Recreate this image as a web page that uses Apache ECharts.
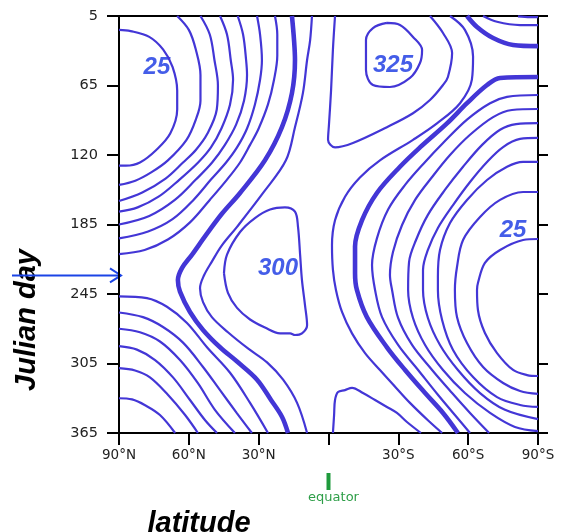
<!DOCTYPE html>
<html>
<head>
<meta charset="utf-8">
<script src="https://cdn.jsdelivr.net/npm/echarts@6/dist/echarts.min.js"></script>
<style>
html,body{margin:0;padding:0;background:#fff;}
#chart{width:561px;height:532px;}
</style>
</head>
<body>
<div id="chart"></div>
<script>
// ---- axis tick labels ----
const dayTicks = [5, 65, 120, 185, 245, 305, 365];
const latTickLabels = ['90°N', '60°N', '30°N', '', '30°S', '60°S', '90°S'];

// ---- contour lines: [latitude (deg, + = N), Julian day] ----
const npLoop25 = [[90,17],[85,18],[77,23],[71,34],[67,49],[65,69],[65,84],[68,103],[74,116],[81,127],[87,130],[90,130]];
const nL1 = [[65,5],[60,17],[57,34],[55,56],[55,77],[57,92],[61,108],[69,125],[76,136],[83,144],[90,148]];
const nL2 = [[55,5],[51,21],[49,43],[47.5,65],[48,84],[52,103],[57,116],[62.5,127],[70,142],[80,155],[90,163]];
const nL3 = [[46.6,5],[43.6,21],[42,43],[41,60],[42.3,80],[46,99],[50.5,114],[56,127],[64,143],[73,159],[82,169],[90,173]];
const nL4 = [[39,5],[36.7,21],[35.4,43],[35,56],[36.3,77],[39.7,96],[44.5,112],[50,127],[57,143],[66,162],[77,177],[90,185]];
const nL5 = [[30.7,5],[29.4,21],[28.6,43],[29.4,60],[31.6,80],[35,99],[39.3,114],[44,127],[50.5,143],[58,162],[67,180],[77.5,191],[90,197]];
const nL6 = [[23,5],[22,21],[22,39],[23.4,60],[26,80],[30,99],[33.7,112],[38,127],[43.6,143],[51,162],[59.5,183],[69,198],[79,207],[90,210.5]];
const thickLeft = [[15.7,5],[14.8,26],[14.4,43],[15.7,71],[20,98],[27.3,125],[38,155.5],[45.8,175],[52.6,194],[58.6,211],[62.9,222.5],[64.7,233],[63.8,243],[59.5,260.5],[53.9,276],[46.6,291],[38.9,304],[30.7,319],[24.7,336.5],[20,351],[17.4,365]];
const mid1 = [[7.1,5],[7.9,26],[9.2,43],[11,71],[14.4,98],[18.3,125],[28.1,155.5],[39.3,187],[45.8,203],[50.1,217],[53.5,229],[55.2,240],[53.9,252],[50.1,265],[43.2,278],[34.6,292],[26.4,304],[19.5,319],[13.5,339],[9.2,365]];
const loop300 = [[44.9,227],[43.6,211],[38,191.5],[31.6,179],[25.1,171],[18.7,169],[14.4,173],[13.1,187],[12.2,211],[11.4,233],[10.1,254.5],[9.2,272],[11.4,279],[14.4,280.4],[16.5,279],[20.8,279],[27.3,274],[33.7,267],[39.3,257],[43.2,244],[44.9,227]];
const nB1 = [[90,335],[84.4,336],[78.8,341],[72.4,349.5],[65.9,365]];
const nB2 = [[90,309],[83.1,311],[76.7,317],[69,332],[61.6,349.5],[56.1,365]];
const nB3 = [[90,290],[82.3,293],[74.5,302],[66.8,317],[59.5,336.5],[53,354],[47.9,365]];
const nB4 = [[90,275],[81,278],[72.4,286],[63.8,302],[56.1,322],[48.8,345],[40.2,365]];
const nB5 = [[90,261],[79.7,265],[71.1,273.5],[62.5,287],[53.9,308],[46.6,328],[39.3,348],[32.9,365]];
const nB6 = [[90,247],[78,248.5],[69.4,256],[60.8,270],[52.2,291],[42.3,313],[33.7,339],[26,365]];
const uCurve = [[-2.8,5],[-1.9,34],[-1.1,69],[-0.2,96],[0.2,108],[-2.8,114],[-10.5,110.5],[-25.1,98],[-36.3,87],[-43.6,76.5],[-49.2,64.6],[-51.3,57.6],[-53.1,37],[-49.2,19.7],[-43.6,5]];
const loop325 = [[-25.1,11],[-19.1,15.4],[-16.1,25.7],[-16.1,51.6],[-19.1,64.6],[-26.4,66.2],[-35,58.5],[-39.3,45.6],[-40.2,34.3],[-36.3,23.1],[-30.7,12.8],[-25.1,11]];
const mid2 = [[-52.2,5],[-58.6,17],[-62.1,40],[-61.6,60],[-56.5,79],[-46.6,95],[-36.3,108],[-22.1,125],[-13.5,141],[-7.1,159],[-2.8,181],[-1.5,203],[-1.9,224],[-3.2,241.5],[-5.8,260.5],[-10.1,279],[-15.7,296],[-22.1,310.6],[-28.6,325],[-35,339],[-42.7,354],[-48.8,365]];
const bump = [[-1.9,365],[-2.4,349.5],[-2.8,336.5],[-4.1,329.6],[-7.1,328],[-10.1,326],[-14.8,330.5],[-20,336.5],[-25.1,342.5],[-29.4,347.7],[-33.7,355.5],[-39.7,365]];
const thickRight = [[-90,57.6],[-73.7,58.5],[-68.1,64.6],[-59.5,79],[-50.9,95],[-39.3,114],[-30.7,131],[-20.8,155.5],[-14.4,181],[-11.4,204],[-11.4,227],[-12.2,241.5],[-16.5,265],[-25.1,291],[-32.9,310.6],[-41.5,330.5],[-49.2,347.7],[-55.6,365]];
const thickCorner = [[-59.5,5],[-63.8,14.5],[-70.7,24],[-79.3,30],[-90,31]];
const cornerA = [[-66.4,5],[-72.4,10],[-82.3,12.8],[-90,12.8]];
const cornerB = [[-81.4,5.3],[-86.6,5.9],[-90,5.9]];
const sR1 = [[-90,72.5],[-76.7,74],[-69.4,79],[-59.5,92],[-49.2,110.5],[-41.5,126.5],[-32.9,148],[-25.6,171],[-20.8,197],[-18.7,220],[-20,241.5],[-23,265],[-29.9,289],[-38.5,310.6],[-47,332],[-54.3,349.5],[-60.8,365]];
const sR2 = [[-90,83.6],[-78.8,84.4],[-70.7,90],[-60.8,104],[-52.2,120],[-44.5,140.6],[-37.2,162],[-31.6,185.4],[-27.7,208.7],[-26.4,228.6],[-27.3,241.5],[-29.9,265.7],[-35.9,289],[-44.5,310.6],[-53.1,330.5],[-60.8,347.7],[-69,365]];
const sR3 = [[-90,94.7],[-80.6,95.5],[-73.7,100],[-66,112],[-57.8,131],[-50,152.7],[-42.7,176],[-37.6,198.4],[-34.6,217.4],[-34.2,241.5],[-36.3,265.7],[-41.5,289],[-49.2,310.6],[-58.6,330.5],[-69.4,347.7],[-80.1,359.8],[-90,363.3]];
const sR4 = [[-90,106.5],[-82.3,107.3],[-75,113.7],[-68.1,126.5],[-60.8,145.2],[-53.5,166.8],[-47,188],[-42.7,207],[-40.6,224.3],[-40.6,241.5],[-42.7,265.7],[-47.9,289],[-55.6,310.6],[-65.1,330.5],[-75.8,345],[-90,353]];
const sR5 = [[-90,126.5],[-83.6,126.5],[-76.7,131],[-68.1,143.4],[-59.5,162],[-52.2,183.6],[-47.9,207],[-47,230.3],[-47,241.5],[-48.8,267.4],[-53.5,293.3],[-62.1,316.7],[-72.4,334],[-82.3,340.8],[-90,342.5]];
const sR6 = [[-90,154.6],[-83.6,154.6],[-73.7,162],[-65.1,178],[-57.8,198.4],[-55.2,221.7],[-54.3,241.5],[-55.2,264.8],[-59.5,287.3],[-66.4,308],[-75,321.8],[-82.3,328.7],[-90,331.3]];
const spLoop25 = [[-90,197.5],[-83.6,198.4],[-73.7,207],[-67.2,218.2],[-64.2,235.5],[-63.8,241.5],[-64.2,258.8],[-67.2,278.7],[-72.4,296],[-79.3,310.6],[-85.3,315],[-90,315.8]];

// contour value labels: [lat, day, text]
const contourLabels = [[73.7, 49, '25'], [-27.7, 48, '325'], [21.7, 223, '300'], [-79.3, 190, '25']];
// arrow points at this Julian day on the 90°N edge
const arrowDay = 229;

const thinLines = [npLoop25, nL1, nL2, nL3, nL4, nL5, nL6, mid1, loop300, nB1, nB2, nB3, nB4, nB5, nB6,
  uCurve, loop325, mid2, bump, cornerA, cornerB, sR1, sR2, sR3, sR4, sR5, sR6, spLoop25];
const thickLines = [thickLeft, thickRight, thickCorner];

// piecewise scale: day -> position between equally spaced day ticks
function dayPos(d) {
  for (let i = 0; i < dayTicks.length - 1; i++) {
    if (d <= dayTicks[i + 1]) return i + (d - dayTicks[i]) / (dayTicks[i + 1] - dayTicks[i]);
  }
  return dayTicks.length - 1;
}
const toXY = arr => arr.map(p => [p[0], dayPos(p[1])]);

const LINE = '#4336d6';
const series = [];
thinLines.forEach(l => series.push({type: 'line', data: toXY(l), symbol: 'none', smooth: 0.35, silent: true,
  lineStyle: {color: LINE, width: 2.2}}));
thickLines.forEach(l => series.push({type: 'line', data: toXY(l), symbol: 'none', smooth: 0.35, silent: true,
  lineStyle: {color: LINE, width: 4.6}}));
series.push({type: 'scatter', symbolSize: 1, silent: true, itemStyle: {color: 'rgba(0,0,0,0)'},
  data: contourLabels.map(c => ({value: [c[0], dayPos(c[1])], name: c[2]})),
  label: {show: true, position: 'inside', formatter: p => p.name, color: '#1535e2',
    fontFamily: 'Liberation Sans', fontWeight: 'bold', fontStyle: 'italic', fontSize: 24}});

const axisLineStyle = {color: '#000', width: 2};
const chart = echarts.init(document.getElementById('chart'), null, {renderer: 'canvas'});
chart.setOption({
  animation: false,
  backgroundColor: '#fff',
  grid: {left: 119, right: 23, top: 16, bottom: 99},
  xAxis: [{
    type: 'value', min: -90, max: 90, interval: 30, inverse: true, position: 'bottom',
    axisLine: {show: true, onZero: false, lineStyle: axisLineStyle},
    axisTick: {show: true, inside: false, length: 12, lineStyle: axisLineStyle},
    axisLabel: {margin: 15, color: '#222', fontFamily: 'DejaVu Sans', fontSize: 13.5,
      formatter: v => latTickLabels[Math.round((90 - v) / 30)]},
    splitLine: {show: false}
  }, {
    type: 'value', min: -90, max: 90, interval: 30, inverse: true, position: 'top',
    axisLine: {show: true, onZero: false, lineStyle: axisLineStyle},
    axisTick: {show: false}, axisLabel: {show: false}, splitLine: {show: false}
  }],
  yAxis: [{
    type: 'value', min: 0, max: 6, interval: 1, inverse: true, position: 'left',
    axisLine: {show: true, onZero: false, lineStyle: axisLineStyle},
    axisTick: {show: true, inside: false, length: 12, lineStyle: axisLineStyle},
    axisLabel: {margin: 21, color: '#222', fontFamily: 'DejaVu Sans', fontSize: 14.5,
      formatter: v => String(dayTicks[Math.round(v)])},
    splitLine: {show: false}
  }, {
    type: 'value', min: 0, max: 6, interval: 1, inverse: true, position: 'right',
    axisLine: {show: true, onZero: false, lineStyle: axisLineStyle},
    axisTick: {show: true, inside: false, length: 10, lineStyle: axisLineStyle},
    axisLabel: {show: false}, splitLine: {show: false}
  }],
  series: series
});

// annotations positioned through the axes
const eqX = chart.convertToPixel({xAxisIndex: 0}, 0);
const poleX = chart.convertToPixel({xAxisIndex: 0}, 90);
const arrowY = chart.convertToPixel({yAxisIndex: 0}, dayPos(arrowDay));
const ARROW = '#1b44e6';
chart.setOption({
  graphic: [
    {type: 'text', x: 27, y: 320, rotation: Math.PI / 2,
      style: {text: 'Julian day', fill: '#000', font: 'italic bold 29px "Liberation Sans"', align: 'center', verticalAlign: 'middle'}},
    {type: 'text', x: 199, y: 524,
      style: {text: 'latitude', fill: '#000', font: 'italic bold 29px "Liberation Sans"', align: 'center', verticalAlign: 'middle'}},
    {type: 'rect', shape: {x: eqX - 2, y: 473, width: 4, height: 17}, style: {fill: '#1f9a3c'}},
    {type: 'text', x: eqX + 5, y: 498,
      style: {text: 'equator', fill: '#2e9e48', font: '13px "DejaVu Sans"', align: 'center', verticalAlign: 'middle'}},
    {type: 'polyline', shape: {points: [[12, arrowY], [poleX + 2, arrowY]]}, style: {stroke: ARROW, lineWidth: 2}},
    {type: 'polyline', shape: {points: [[poleX - 9, arrowY - 7], [poleX + 2, arrowY], [poleX - 9, arrowY + 7]]},
      style: {stroke: ARROW, lineWidth: 2, fill: null}}
  ]
});
</script>
</body>
</html>
